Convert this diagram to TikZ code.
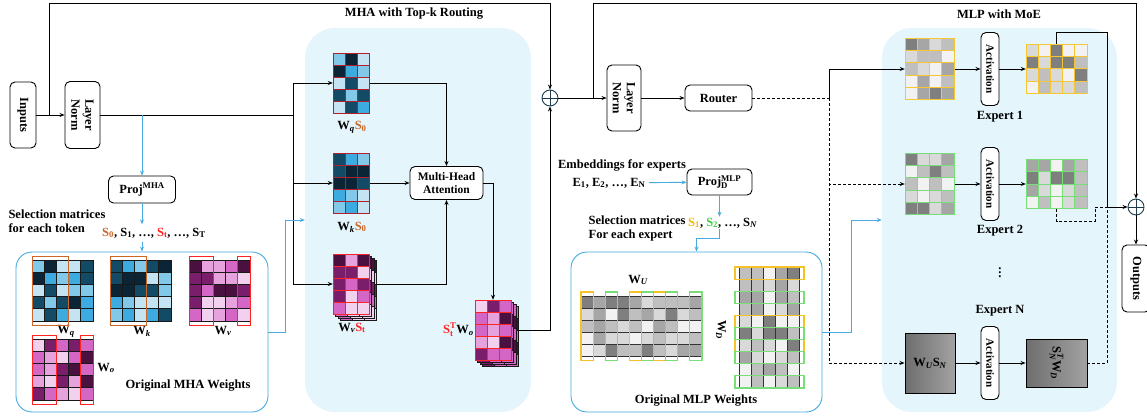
\documentclass[tikz,border=0pt]{standalone}
\usepackage{amsmath}
\usepackage{fontspec}
\setmainfont{Liberation Serif}
\usetikzlibrary{arrows.meta,calc}

\definecolor{regbg}{HTML}{E4F5FC}
\definecolor{lineblue}{HTML}{45ABE0}
\definecolor{addcol}{HTML}{1D3A4C}
\definecolor{orS}{HTML}{CC6626}
\definecolor{redS}{HTML}{FF2323}
\definecolor{yelS}{HTML}{F5B800}
\definecolor{grnS}{HTML}{3FCF3F}
\definecolor{darkred}{HTML}{B3202B}
% blues
\definecolor{bA}{HTML}{0B2536}
\definecolor{bB}{HTML}{134A66}
\definecolor{bC}{HTML}{3EABE0}
\definecolor{bD}{HTML}{82C9E9}
\definecolor{bE}{HTML}{C4E4F3}
% pinks
\definecolor{pA}{HTML}{4A1040}
\definecolor{pB}{HTML}{7A1E6C}
\definecolor{pC}{HTML}{D467C6}
\definecolor{pD}{HTML}{E5A2DD}
\definecolor{pE}{HTML}{F2D1EE}
% greys
\definecolor{g1}{HTML}{F2F2F2}
\definecolor{g2}{HTML}{D9D9D9}
\definecolor{g3}{HTML}{BFBFBF}
\definecolor{g4}{HTML}{A6A6A6}
\definecolor{g5}{HTML}{7F7F7F}
\definecolor{gN1}{HTML}{6E6E6E}
\definecolor{gN2}{HTML}{A2A2A2}

% bold text letters inside math
\newcommand{\tx}[1]{\text{#1}}
\newcommand{\ti}[1]{\text{\itshape #1}}

% x, y (top left), cell, style, rows
\newcommand{\cellgrid}[5]{%
  \foreach \rw [count=\i] in {#5} {%
    \foreach \cc [count=\j] in \rw {%
      \filldraw[fill=\cc, #4] ({#1+(\j-1)*#3},{#2+(\i-1)*#3}) rectangle ++(#3,#3);
    }%
  }%
}

\tikzset{
  every node/.style={font=\fontsize{12.5}{14}\selectfont\bfseries},
  rbox/.style={draw, rounded corners=5pt, fill=white, line width=0.9pt, inner sep=0pt, align=center},
  vrbox/.style={rbox, rotate=-90},
  matbox/.style={inner sep=0pt},
  wire/.style={line width=0.8pt},
  bwire/.style={line width=0.9pt, draw=lineblue},
  dwire/.style={wire, dash pattern=on 3pt off 2pt},
  regbox/.style={fill=regbg, rounded corners=30pt, inner sep=0pt},
  wtbox/.style={draw=lineblue, line width=0.9pt, rounded corners=16pt, inner sep=0pt},
  addnode/.style={circle, draw=addcol, line width=0.9pt, minimum size=16pt, inner sep=0pt},
  gridk/.style={draw=black!90, line width=0.7pt},
  gridr/.style={draw=darkred, line width=0.6pt},
  gridp/.style={draw=redS, line width=0.8pt},
  gridg/.style={draw=black!80, line width=0.9pt},
  gridy/.style={draw=yelS!80, line width=1pt},
  gridn/.style={draw=grnS!70, line width=1pt},
  hlo/.style={draw=orS, line width=1pt},
  hlr/.style={draw=redS, line width=1pt},
  hly/.style={draw=yelS!85, line width=1.1pt},
  hlg/.style={draw=grnS!70, line width=1.1pt},
  actfont/.style={font=\fontsize{11}{13}\selectfont\bfseries},
  >={Stealth[length=5pt,width=4pt]}
}

\begin{document}
\begin{tikzpicture}[x=1pt,y=-1pt]
\useasboundingbox (0,0) rectangle (1147,417);

% backgrounds
\node[regbox, minimum width=226, minimum height=384] (mhareg) at (418,220) {};
\node[regbox, minimum width=235, minimum height=384] (moereg) at (999.5,220) {};
\node[wtbox, minimum width=252, minimum height=160] (omha) at (142,332) {};
\node[wtbox, minimum width=251, minimum height=160] (omlp) at (696.5,332) {};

\node (t1) at (414,14) {MHA with Top-k Routing};
\node (t2) at (999,14) {MLP with MoE};

% left part
\node[vrbox, minimum width=66, minimum height=26] (inp) at (23,115) {Inputs};
\node[vrbox, minimum width=67, minimum height=35] (ln1) at (82.5,115) {Layer\\Norm};
\node[rbox, minimum width=67, minimum height=27] (proj1) at (142,189.5) {Proj$^{\tx{MHA}}$};
\node[align=left, anchor=west] (seltxt1) at (5,221) {Selection matrices\\for each token};
\node (sel1) at (154,233) {{\color{orS}$\tx{S}_{\tx{0}}$}, $\tx{S}_{\tx{1}}$, \dots, {\color{redS}$\tx{S}_{\tx{t}}$}, \dots, $\tx{S}_{\tx{T}}$};
\node (omhatxt) at (188,386) {Original MHA Weights};
\node (lwq) at (66,331) {$\tx{W}_{\ti{q}}$};
\node (lwk) at (142,331) {$\tx{W}_{\ti{k}}$};
\node (lwv) at (223,331) {$\tx{W}_{\ti{v}}$};
\node (lwo) at (106,368) {$\tx{W}_{\ti{o}}$};

% MHA with routing
\node[matbox, minimum width=36, minimum height=60] (wqs) at (351,83) {};
\node[matbox, minimum width=36, minimum height=60] (wks) at (351,183) {};
\node[matbox, minimum width=36, minimum height=60] (wvs) at (351,284) {};
\node[rbox, minimum width=73, minimum height=33, font=\fontsize{11.5}{13}\selectfont\bfseries] (mha) at (446.5,183) {Multi-Head\\Attention};
\node[matbox, minimum width=36, minimum height=60] (stwo) at (493,330) {};
\node (lwqs) at (352,127) {$\tx{W}_{\ti{q}}${\color{orS}$\tx{S}_{\tx{0}}$}};
\node (lwks) at (352,227) {$\tx{W}_{\ti{k}}${\color{orS}$\tx{S}_{\tx{0}}$}};
\node (lwvs) at (352,328) {$\tx{W}_{\ti{v}}${\color{redS}$\tx{S}_{\tx{t}}$}};
\node[anchor=east, inner sep=1pt] (lstwo) at (475,330) {{\color{redS}$\tx{S}_{\tx{t}}^{\tx{T}}$}$\tx{W}_{\ti{o}}$};
\node[addnode] (add1) at (550,98) {};

% MLP side
\node[vrbox, minimum width=66, minimum height=34] (ln2) at (624,98) {Layer\\Norm};
\node[rbox, minimum width=67, minimum height=26] (router) at (718.5,98) {Router};
\node (embtxt) at (622,165) {Embeddings for experts};
\node (elist) at (609,183) {$\tx{E}_{\tx{1}}$, $\tx{E}_{\tx{2}}$, \dots, $\tx{E}_{\tx{N}}$};
\node[rbox, minimum width=65, minimum height=26] (projd) at (719.5,182) {Proj$^{\tx{MLP}}_{\tx{D}}$};
\node[align=left, anchor=east] (seltxt2) at (689,228) {Selection matrices\\For each expert};
\node[anchor=west, inner sep=1pt] (sel2) at (687,223) {{\color{yelS}$\tx{S}_{\tx{1}}$}, {\color{grnS}$\tx{S}_{\tx{2}}$}, \dots, $\tx{S}_{\ti{N}}$};
\node (lwu) at (638,280) {$\tx{W}_{\ti{U}}$};
\node[rotate=-90] (lwd) at (721,330) {$\tx{W}_{\ti{D}}$};
\node (omlptxt) at (696,401) {Original MLP Weights};

% experts
\node[matbox, minimum width=49.2, minimum height=61.5] (e1a) at (929.6,69) {};
\node[vrbox, actfont, minimum width=73, minimum height=18] (act1) at (990,69) {Activation};
\node[matbox, minimum width=61, minimum height=48.8] (e1b) at (1056.5,69) {};
\node (ex1) at (1000,117) {Expert 1};
\node[matbox, minimum width=49.2, minimum height=61.5] (e2a) at (929.6,184) {};
\node[vrbox, actfont, minimum width=73, minimum height=18] (act2) at (990,184) {Activation};
\node[matbox, minimum width=61, minimum height=48.8] (e2b) at (1056.5,184) {};
\node (ex2) at (1000,231) {Expert 2};
\node (dots) at (1000,270) {$\vdots$};
\node (exn) at (1000,311) {Expert N};
\node[draw, line width=0.9pt, left color=gN1, right color=gN2, minimum width=50, minimum height=60, inner sep=0pt] (ena) at (930,363) {$\tx{W}_{\ti{U}}\tx{S}_{\ti{N}}$};
\node[vrbox, actfont, minimum width=73, minimum height=18] (actn) at (990,363) {Activation};
\node[draw, line width=0.9pt, left color=gN1, right color=gN2, minimum width=61, minimum height=48, inner sep=0pt] (enb) at (1056.5,363) {};
\node[rotate=-90] (lenb) at (enb) {$\tx{S}_{\ti{N}}^{\ti{T}}\tx{W}_{\ti{D}}$};
\node[addnode] (add2) at (1136,207) {};
\node[vrbox, minimum width=67, minimum height=28] (outp) at (1136,278.5) {Outputs};

\coordinate (br1) at (49,115);
\coordinate (top1) at (49,3);
\coordinate (tap1) at (142,115);
\coordinate (split1) at (293,115);
\coordinate (br2) at (593,98);
\coordinate (top2) at (593,3);
\coordinate (rsplit) at (829,98);
\coordinate (mrg) at (1107,207);
\coordinate (e1up) at (1107,32);
\coordinate (e2dn) at (1095,221);

% connectors
\draw[wire,->] (inp) -- (ln1);
\draw[wire,->] (br1) -- (top1) -| (add1);
\draw[wire] (ln1) -- (split1);
\draw[bwire,->] (tap1) -- (proj1);
\draw[bwire,->] (proj1.south) -- (proj1.south |- sel1.north);
\draw[bwire,->] (sel1.south -| omha.north) -- (omha.north);
\draw[wire,->] (split1) |- (wqs);
\draw[wire,->] (split1) |- (wks);
\draw[wire,->] (split1) |- (wvs);
\draw[wire,->] (wqs) -| (mha);
\draw[wire,->] (wks) -- (wks -| mha.west);
\draw[wire,->] (wvs) -| (mha);
\draw[wire,->] (mha) -| (stwo);
\draw[wire,->] (stwo) -| (add1);
\draw[bwire,->] (omha.east) -- ++(17,0) |- (mhareg.west);
\draw[wire,->] (add1) -- (ln2);
\draw[wire,->] (br2) -- (top2) -| (add2);
\draw[wire,->] (ln2) -- (router);
\draw[dwire] (router) -- (rsplit);
\draw[wire,->] (rsplit) |- (e1a);
\draw[dwire,->] (rsplit) |- (e2a);
\draw[dwire,->] (rsplit) |- (ena);
\draw[bwire,->] (elist) -- (projd);
\draw[bwire,->] (projd.south) -- (projd.south |- sel2.north);
\draw[bwire,->] (projd.south |- sel2.south) -- ++(0,9) -| (omlp.north);
\draw[bwire,->] (omlp.east) -- ++(29,0) |- (moereg.west);
\draw[wire,->] (e1a) -- (act1);
\draw[wire,->] (act1) -- (e1b);
\draw[wire,->] (e2a) -- (act2);
\draw[wire,->] (act2) -- (e2b);
\draw[wire,->] (ena) -- (actn);
\draw[wire,->] (actn) -- (enb);
\draw[wire,->] (e1b.north) |- (e1up) -- (mrg) -- (add2);
\draw[dwire] (e2b.south) |- (e2dn) |- (mrg);
\draw[dwire] (enb) -| (mrg);
\draw[wire,->] (add2) -- (outp);
\draw[addcol, line width=0.9pt] (add1.north) -- (add1.south) (add1.west) -- (add1.east);
\draw[addcol, line width=0.9pt] (add2.north) -- (add2.south) (add2.west) -- (add2.east);

% original MHA weights
\cellgrid{32}{260}{12.2}{gridk}{{bD,bA,bE,bE,bB},{bA,bC,bD,bC,bB},{bE,bB,bE,bD,bD},{bB,bD,bB,bA,bC},{bE,bB,bC,bE,bC}}
\cellgrid{110}{260}{12.2}{gridk}{{bB,bC,bD,bB,bA},{bB,bA,bA,bE,bD},{bA,bA,bB,bB,bD},{bC,bD,bE,bE,bE},{bD,bC,bE,bC,bB}}
\cellgrid{189}{260}{12.2}{gridk}{{pA,pD,pD,pC,pA},{pB,pB,pD,pD,pE},{pB,pC,pA,pA,pB},{pB,pE,pE,pD,pC},{pC,pE,pD,pC,pE}}
\cellgrid{32}{339}{12.2}{gridk}{{pE,pB,pC,pB,pC},{pC,pD,pE,pC,pA},{pC,pD,pB,pA,pC},{pD,pE,pB,pD,pA},{pB,pC,pD,pE,pC}}
\draw[hlo] (32,256) rectangle (68.6,325);
\draw[hlo] (110,256) rectangle (146.6,325);
\draw[hlr] (189,256) rectangle (213.4,325);
\draw[hlr] (237.8,256) rectangle (250,325);
\draw[hlr] (32,335) rectangle (56.4,404);
\draw[hlr] (80.8,335) rectangle (93,404);

% routed MHA weights
\cellgrid{333}{53}{12}{gridr}{{bD,bA,bE},{bA,bC,bD},{bE,bB,bE},{bB,bD,bB},{bE,bB,bC}}
\cellgrid{333}{153}{12}{gridr}{{bB,bC,bD},{bB,bA,bA},{bA,bA,bB},{bC,bD,bE},{bD,bC,bE}}
\foreach \k in {3,2,1} {
  \cellgrid{333+2.5*\k}{254+2*\k}{12}{gridk}{{pA,pD,pA},{pB,pB,pE},{pB,pC,pB},{pB,pE,pC},{pC,pE,pE}}
  \cellgrid{475+2.5*\k}{300+2*\k}{12}{gridk}{{pE,pB,pC},{pC,pD,pA},{pC,pD,pC},{pD,pE,pA},{pB,pC,pC}}
}
\cellgrid{333}{254}{12}{gridp}{{pA,pD,pA},{pB,pB,pE},{pB,pC,pB},{pB,pE,pC},{pC,pE,pE}}
\cellgrid{475}{300}{12}{gridp}{{pE,pB,pC},{pC,pD,pA},{pC,pD,pC},{pD,pE,pA},{pB,pC,pC}}

% original MLP weights
\cellgrid{581}{296}{12.1}{gridg}{{g5,g4,g5,g5,g4,g2,g3,g3,g3,g4},{g2,g4,g1,g5,g3,g4,g2,g5,g2,g3},{g3,g4,g3,g2,g3,g1,g4,g3,g1,g1},{g1,g4,g2,g2,g1,g2,g3,g2,g2,g3},{g1,g2,g5,g3,g3,g5,g3,g2,g4,g4}}
\cellgrid{739}{267}{12.1}{gridg}{{g3,g3,g1,g4,g5},{g3,g3,g2,g4,g2},{g4,g4,g1,g4,g3},{g3,g4,g1,g2,g4},{g2,g1,g5,g1,g1},{g5,g2,g5,g5,g3},{g2,g3,g2,g1,g5},{g4,g2,g1,g2,g3},{g1,g3,g4,g3,g1},{g1,g3,g1,g2,g3}}
\foreach \k in {1,5,7} {
  \draw[hly] ({581+(\k-1)*12.1},292) rectangle ++(12.1,68.5);
  \draw[hly] (735,{267+(\k-1)*12.1}) rectangle ++(69,12.1);
}
\foreach \k in {3,6,8,10} {
  \draw[hlg] ({581+(\k-1)*12.1},292) rectangle ++(12.1,68.5);
  \draw[hlg] (735,{267+(\k-1)*12.1}) rectangle ++(69,12.1);
}

% expert matrices
\cellgrid{905}{38.25}{12.3}{gridy}{{g5,g4,g2,g3},{g2,g3,g3,g1},{g3,g2,g1,g4},{g1,g4,g1,g3},{g1,g4,g5,g4}}
\cellgrid{1026}{44.6}{12.2}{gridy}{{g2,g1,g5,g1,g1},{g5,g2,g5,g5,g3},{g2,g3,g2,g1,g5},{g1,g3,g2,g2,g3}}
\cellgrid{905}{153.25}{12.3}{gridn}{{g5,g2,g2,g4},{g1,g3,g5,g3},{g3,g1,g3,g1},{g2,g1,g2,g3},{g5,g5,g2,g4}}
\cellgrid{1026}{159.6}{12.2}{gridn}{{g4,g4,g1,g4,g3},{g5,g2,g5,g5,g3},{g4,g2,g1,g2,g3},{g1,g3,g1,g2,g3}}

\end{tikzpicture}
\end{document}
